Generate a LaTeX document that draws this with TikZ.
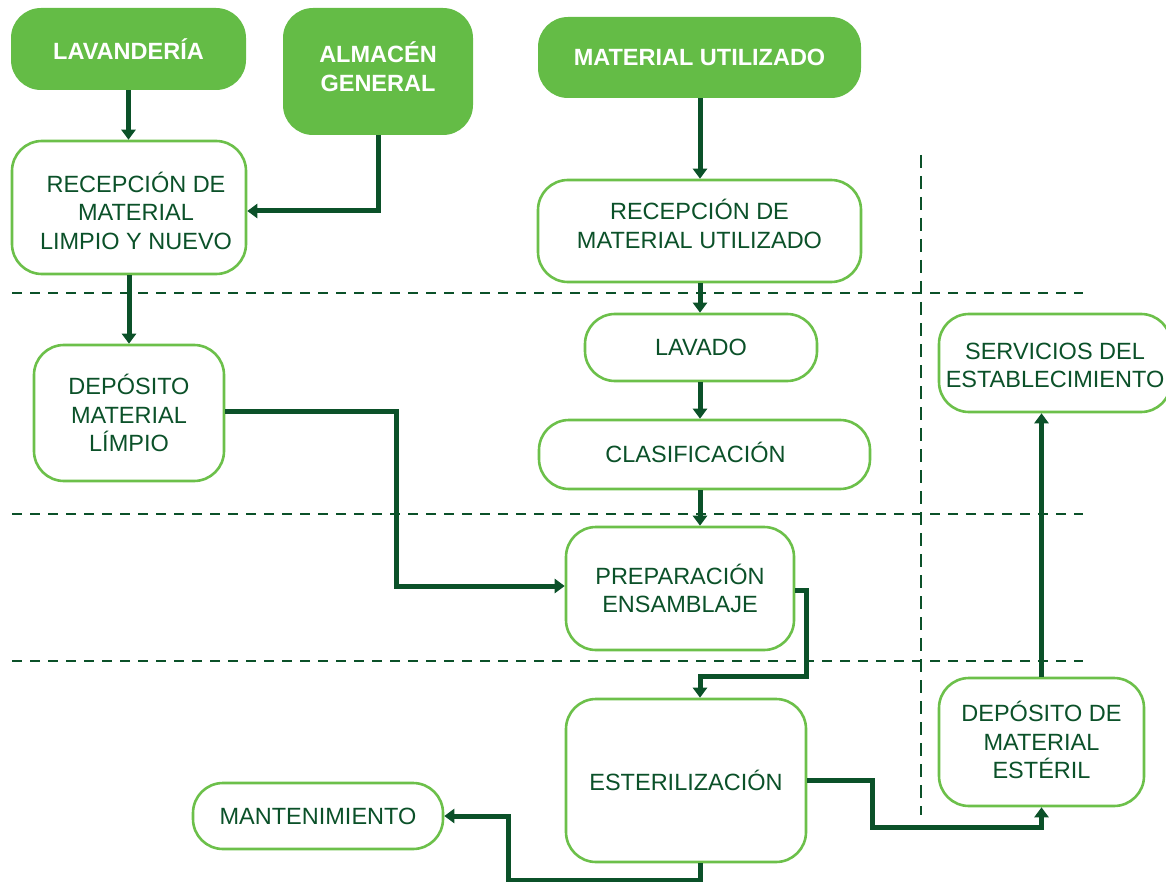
\documentclass[tikz,border=0pt]{standalone}
\usepackage{fontspec}
\setmainfont{Liberation Sans}
\usetikzlibrary{arrows.meta}
\definecolor{gfill}{HTML}{64BC46}
\definecolor{gline}{HTML}{6CC04A}
\definecolor{dgreen}{HTML}{0B5129}
\tikzset{
  box/.style={draw=gline, line width=2.6pt, rounded corners=30pt, fill=white,
    align=center, text=dgreen, inner sep=0pt, font=\fontsize{23.5}{28.5}\selectfont},
  topbox/.style={fill=gfill, rounded corners=30pt, align=center, text=white,
    inner sep=0pt, font=\bfseries\fontsize{23.5}{28.5}\selectfont},
  boxtext/.style={align=center, text=dgreen, inner sep=0pt, font=\fontsize{23.5}{28.5}\selectfont},
  toptext/.style={align=center, text=white, inner sep=0pt, font=\bfseries\fontsize{23.5}{28.5}\selectfont},
  arr/.style={draw=dgreen, line width=5pt, -{Triangle[width=14pt,length=10pt]}},
  sep/.style={draw=dgreen, line width=2.5pt, dash pattern=on 10pt off 8pt},
  vsep/.style={draw=dgreen, line width=2.5pt, dash pattern=on 13pt off 8pt},
}
\begin{document}
\begin{tikzpicture}[x=1pt,y=-1pt]
\useasboundingbox (0,0) rectangle (1166,882);
% separators
\draw[sep] (12,293) -- (1083,293);
\draw[sep] (12,514) -- (1083,514);
\draw[sep] (12,661) -- (1083,661);
\draw[vsep] (921,155) -- (921,815);
% nodes
\node[topbox, minimum width=235pt, minimum height=82pt] (lav) at (128.5,49) {LAVANDERÍA};
\node[topbox, minimum width=190pt, minimum height=127pt,
  label={[toptext, yshift=5pt]center:{ALMACÉN\\GENERAL}}] (alm) at (378,71.5) {};
\node[topbox, minimum width=323pt, minimum height=81pt] (mu) at (699.5,57.5) {MATERIAL UTILIZADO};
\node[box, minimum width=234pt, minimum height=133pt,
  label={[boxtext, xshift=7pt, yshift=-3pt]center:{RECEPCIÓN DE\\MATERIAL\\LIMPIO Y NUEVO}}] (rl) at (129,207.5) {};
\node[box, minimum width=323pt, minimum height=102pt,
  label={[boxtext, yshift=7pt]center:{RECEPCIÓN DE\\MATERIAL UTILIZADO}}] (ru) at (699.5,231) {};
\node[box, minimum width=232pt, minimum height=67pt] (lavado) at (701,347.5) {LAVADO};
\node[box, minimum width=331pt, minimum height=69pt,
  label={[boxtext, xshift=-9pt, yshift=2.5pt]center:{CLASIFICACIÓN}}] (clas) at (704.5,454.5) {};
\node[box, minimum width=190pt, minimum height=136pt] (dml) at (129,413) {DEPÓSITO\\MATERIAL\\LÍMPIO};
\node[box, minimum width=232pt, minimum height=98pt,
  label={[boxtext, yshift=-2.5pt]center:{SERVICIOS DEL\\ESTABLECIMIENTO}}] (serv) at (1055,363) {};
\node[box, minimum width=228pt, minimum height=123pt] (prep) at (680,588.5) {PREPARACIÓN\\ENSAMBLAJE};
\node[box, minimum width=240pt, minimum height=163pt] (est) at (686,780.5) {ESTERILIZACIÓN};
\node[box, minimum width=205pt, minimum height=128pt,
  label={[boxtext, yshift=2pt]center:{DEPÓSITO DE\\MATERIAL\\ESTÉRIL}}] (dme) at (1041.5,742) {};
\node[box, minimum width=250pt, minimum height=66pt] (mant) at (318,816) {MANTENIMIENTO};
% coordinates
\coordinate (col) at (700,0);
\coordinate (k0) at (396,586);
\coordinate (k1) at (806,676);
\coordinate (k2) at (508,880);
\coordinate (k3) at (872,827);
% connectors
\draw[arr] (lav.south) -- (lav.south |- rl.north);
\draw[arr] (alm.south) |- ([yshift=-3.5pt]rl.east);
\draw[arr] (rl.south) -- (rl.south |- dml.north);
\draw[arr] (col |- mu.south) -- (col |- ru.north);
\draw[arr] (col |- ru.south) -- (col |- lavado.north);
\draw[arr] (col |- lavado.south) -- (col |- clas.north);
\draw[arr] (col |- clas.south) -- (col |- prep.north);
\draw[arr] ([yshift=1.5pt]dml.east) -| (k0) -- ([yshift=2.5pt]prep.west);
\draw[arr] ([yshift=-1.5pt]prep.east) -| (k1) -| (col |- est.north);
\draw[arr] (col |- est.south) |- (k2) |- (mant.east);
\draw[arr] (est.east) -| (k3) -| (dme.south);
\draw[arr] (dme.north) -- (dme.north |- serv.south);
\end{tikzpicture}
\end{document}
